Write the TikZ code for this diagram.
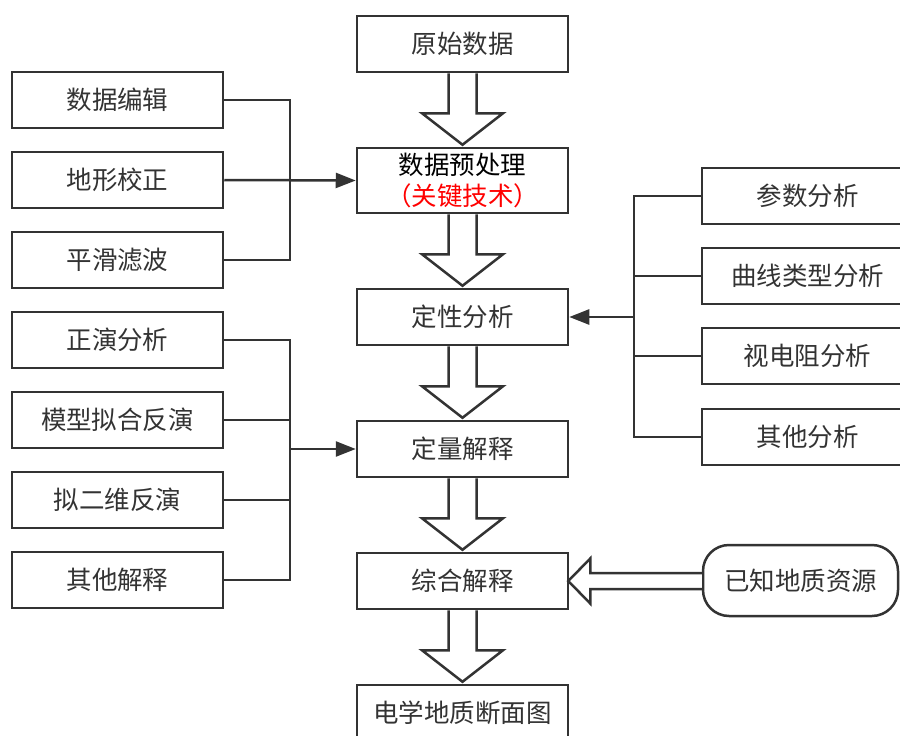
\documentclass[tikz,border=0pt]{standalone}
\usepackage{fontspec}
\newfontfamily\cjk{Noto Sans CJK SC}
\usetikzlibrary{arrows.meta,calc}
\definecolor{ln}{HTML}{333333}
\begin{document}
\begin{tikzpicture}[x=1pt,y=-1pt,
  box/.style={draw=ln, line width=2.5pt, minimum width=211pt, minimum height=56pt, inner sep=0pt,
    font=\cjk\fontsize{25.5}{31}\selectfont, text=ln, fill=white},
  conn/.style={draw=ln, line width=2.5pt},
  arr/.style={conn, -{Triangle[length=20pt,width=15pt]}},
  blk/.style={draw=ln, line width=2.5pt, fill=white, line join=miter}
]
\useasboundingbox (0,0) rectangle (900,736);
\clip (0,0) rectangle (900,736);
% centre column
\node[box] (ys) at (462.5,44) {原始数据};
\node[box, minimum height=65pt, align=center, text=black] (pre) at (462.5,180.5) {数据预处理\\{\color{red}（关键技术）}};
\node[box] (dx) at (462.5,317) {定性分析};
\node[box] (dl) at (462.5,449) {定量解释};
\node[box] (zh) at (462.5,581) {综合解释};
\node[box] (dz) at (462.5,713) {电学地质断面图};
% left column
\node[box] (e1) at (117.5,100) {数据编辑};
\node[box] (e2) at (117.5,180) {地形校正};
\node[box] (e3) at (117.5,260) {平滑滤波};
\node[box] (f1) at (117.5,340) {正演分析};
\node[box] (f2) at (117.5,420) {模型拟合反演};
\node[box] (f3) at (117.5,500) {拟二维反演};
\node[box] (f4) at (117.5,580) {其他解释};
% right column
\node[box] (r1) at (807.5,196) {参数分析};
\node[box] (r2) at (807.5,276) {曲线类型分析};
\node[box] (r3) at (807.5,356) {视电阻分析};
\node[box] (r4) at (807.5,437) {其他分析};
\node[box, minimum width=195pt, minimum height=71pt, rounded corners=26pt] (geo) at (800.5,580.5) {已知地质资源};
% bracket coordinates
\coordinate (bl) at (290,0);
\coordinate (br) at (634,0);
% left group 1
\draw[conn] (e1.east) -| (bl |- e3.east) -- (e3.east);
\draw[arr] (e2.east) -- (pre.west);
% left group 2
\draw[conn] (f1.east) -| (bl |- f4.east) -- (f4.east);
\draw[conn] (f2.east) -- (bl |- f2.east);
\draw[conn] (f3.east) -- (bl |- f3.east);
\draw[arr] (bl |- dl.west) -- (dl.west);
% right group
\draw[conn] (r1.west) -| (br |- r4.west) -- (r4.west);
\draw[conn] (r2.west) -- (br |- r2.west);
\draw[conn] (r3.west) -- (br |- r3.west);
\draw[arr] (br |- dx.east) -- (dx.east);
% block arrows
\foreach \a/\b in {ys/pre, pre/dx, dx/dl, dl/zh, zh/dz}{
  \draw[blk] ($(\a.south)+(-14,0)$) -- ($(\a.south)+(-14,40)$) -- ($(\a.south)+(-40.5,40)$)
    -- ($(\b.north)+(0,-2)$) -- ($(\a.south)+(40.5,40)$) -- ($(\a.south)+(14,40)$) -- ($(\a.south)+(14,0)$);
}
% hollow arrow from geo to zh
\draw[blk] (geo.west |- 0,573) -- ($(zh.east)+(21,-8)$) -- ($(zh.east)+(21,-22.5)$) -- ($(zh.east)+(-1,0)$)
  -- ($(zh.east)+(21,22.5)$) -- ($(zh.east)+(21,8)$) -- (geo.west |- 0,589);
\end{tikzpicture}
\end{document}
